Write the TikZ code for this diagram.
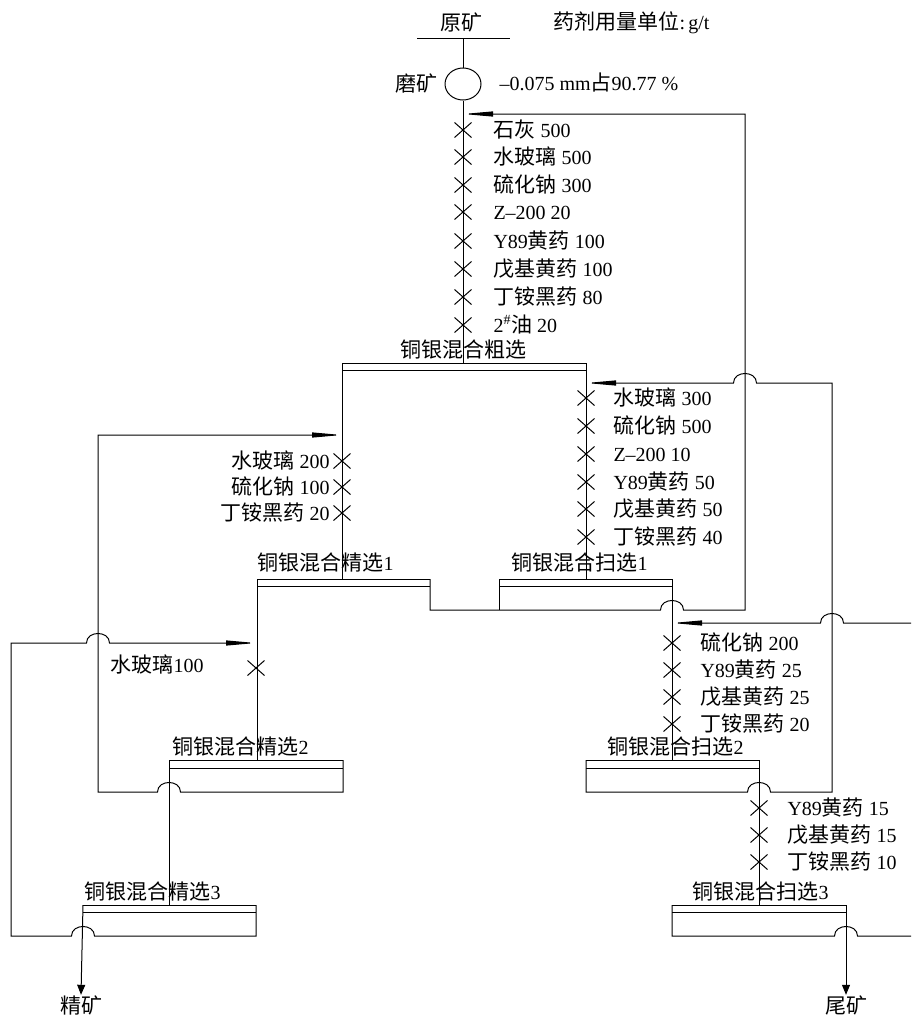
\documentclass[tikz,border=0pt]{standalone}
\usepackage{fontspec}
\setmainfont{Liberation Serif}
\newfontfamily\cjk[Scale=1.05]{Noto Sans CJK SC}
\usetikzlibrary{arrows.meta,shapes.geometric,shapes.misc}
\newcommand\zh[1]{{\cjk #1}}
\tikzset{
 lab/.style={anchor=base west},
 labr/.style={anchor=base east},
 xm/.style={cross out, draw, minimum width=16pt, minimum height=14pt, inner sep=0pt, line width=1pt},
 feed/.style={-{Triangle[length=30pt,width=5pt]}},
 outa/.style={-{Triangle[length=10pt,width=8pt]}},
}
\begin{document}
\begin{tikzpicture}[x=1pt,y=-1pt, line width=1pt,
 every node/.style={font=\fontsize{20}{24}\selectfont, inner sep=0pt}]
\useasboundingbox (0,0) rectangle (911,1017);

% ---------- top ----------
\node (ore) at (461,22) {\zh{原矿}};
\node[lab] (unit) at (553,29) {\zh{药剂用量单位}:\,g/t};
\draw (417,38) -- (510,38);
\node[draw, ellipse, minimum width=36pt, minimum height=32pt] (mill) at (463,84) {};
\node (millt) at (416,83) {\zh{磨矿}};
\node[lab] (size) at (499,90) {–0.075 mm\zh{占}90.77 \%};
\draw (463,38) -- (mill.north);
\coordinate (rfeed) at (463,363);
\draw (mill.south) -- (rfeed);

% ---------- rougher reagents ----------
\foreach \yy/\tt [count=\i] in {130/{\zh{石灰} 500},157/{\zh{水玻璃} 500},185/{\zh{硫化钠} 300},212/{Z–200 20},241/{Y89\zh{黄药} 100},269/{\zh{戊基黄药} 100},297/{\zh{丁铵黑药} 80},325/{2\textsuperscript{\#}\zh{油} 20}}{
  \node[xm] (rx\i) at (463,\yy) {};
  \node[lab] (rt\i) at (493,\yy+7) {\tt};
}

% ---------- rougher ----------
\node[lab] (rl) at (400,357) {\zh{铜银混合粗选}};
\draw (342,363) -- (586,363);
\draw (342,370) -- (586,370);
\draw (342,363) -- (342,579);
\draw (586,363) -- (586,579);

% scavenger 1 reagents
\foreach \yy/\tt [count=\i] in {398/{\zh{水玻璃} 300},426/{\zh{硫化钠} 500},454/{Z–200 10},482/{Y89\zh{黄药} 50},509/{\zh{戊基黄药} 50},537/{\zh{丁铵黑药} 40}}{
  \node[xm] (sx\i) at (586,\yy) {};
  \node[lab] (st\i) at (613,\yy+7) {\tt};
}
% cleaner 1 reagents
\foreach \yy/\tt [count=\i] in {461/{\zh{水玻璃} 200},487/{\zh{硫化钠} 100},513/{\zh{丁铵黑药} 20}}{
  \node[xm] (cx\i) at (342,\yy) {};
  \node[labr] (ct\i) at (330,\yy+7) {\tt};
}

% ---------- cleaner 1 ----------
\node[lab] (c1l) at (257,570) {\zh{铜银混合精选}1};
\draw (257,579) -- (430,579);
\draw (257,586) -- (430,586);
\draw (257,579) -- (257,760);
\draw[feed] (430,579) -- (430,610) -- (660.5,610) .. controls (660.5,597.3) and (683.5,597.3) .. (683.5,610) -- (745,610) -- (745,114) -- (463,114);

% ---------- scavenger 1 ----------
\node[lab] (s1l) at (511,570) {\zh{铜银混合扫选}1};
\draw (499,579) -- (672,579);
\draw (499,586) -- (672,586);
\draw (499,579) -- (499,610);
\draw (672,579) -- (672,760);

% cleaner 2 reagent
\node[xm] (c2x) at (256,668) {};
\node[lab] (c2t) at (110,672) {\zh{水玻璃}100};

% scavenger 2 reagents
\foreach \yy/\tt [count=\i] in {643/{\zh{硫化钠} 200},670/{Y89\zh{黄药} 25},697/{\zh{戊基黄药} 25},724/{\zh{丁铵黑药} 20}}{
  \node[xm] (s2x\i) at (672,\yy) {};
  \node[lab] (s2t\i) at (700,\yy+7) {\tt};
}

% ---------- cleaner 2 ----------
\node[lab] (c2l) at (172,754) {\zh{铜银混合精选}2};
\draw (169,760) -- (343,760);
\draw (169,768) -- (343,768);
\draw (169,760) -- (169,905);
\draw[feed] (343,760) -- (343,792) -- (180.5,792) .. controls (180.5,779.3) and (157.5,779.3) .. (157.5,792) -- (98,792) -- (98,435) -- (342,435);

% ---------- scavenger 2 ----------
\node[lab] (s2l) at (607,754) {\zh{铜银混合扫选}2};
\draw (586,760) -- (759,760);
\draw (586,768) -- (759,768);
\draw (759,760) -- (759,905);
\draw[feed] (586,760) -- (586,792) -- (747.5,792) .. controls (747.5,779.3) and (770.5,779.3) .. (770.5,792) -- (832,792) -- (832,383) -- (756.5,383) .. controls (756.5,370.3) and (733.5,370.3) .. (733.5,383) -- (586,383);

% scavenger 3 reagents
\foreach \yy/\tt [count=\i] in {808/{Y89\zh{黄药} 15},835/{\zh{戊基黄药} 15},862/{\zh{丁铵黑药} 10}}{
  \node[xm] (s3x\i) at (759,\yy) {};
  \node[lab] (s3t\i) at (787,\yy+7) {\tt};
}

% ---------- cleaner 3 ----------
\node[lab] (c3l) at (84,899) {\zh{铜银混合精选}3};
\draw (83,905) -- (256,905);
\draw (83,912) -- (256,912);
\draw[feed] (256,905) -- (256,936) -- (94.5,936) .. controls (94.5,923.3) and (71.5,923.3) .. (71.5,936) -- (11,936) -- (11,643) -- (86.5,643) .. controls (86.5,630.3) and (109.5,630.3) .. (109.5,643) -- (256,643);
\node (conc) at (81,1005) {\zh{精矿}};
\draw[outa] (83,905) -- (conc.north);

% ---------- scavenger 3 ----------
\node[lab] (s3l) at (692,899) {\zh{铜银混合扫选}3};
\draw (672,905) -- (846,905);
\draw (672,912) -- (846,912);
\draw (672,905) -- (672,936) -- (834.5,936) .. controls (834.5,923.3) and (857.5,923.3) .. (857.5,936) -- (911,936);
\draw[feed] (911,623) -- (843.5,623) .. controls (843.5,610.3) and (820.5,610.3) .. (820.5,623) -- (672,623);
\node (tail) at (846,1005) {\zh{尾矿}};
\draw[outa] (846,905) -- (tail.north);
\end{tikzpicture}
\end{document}
